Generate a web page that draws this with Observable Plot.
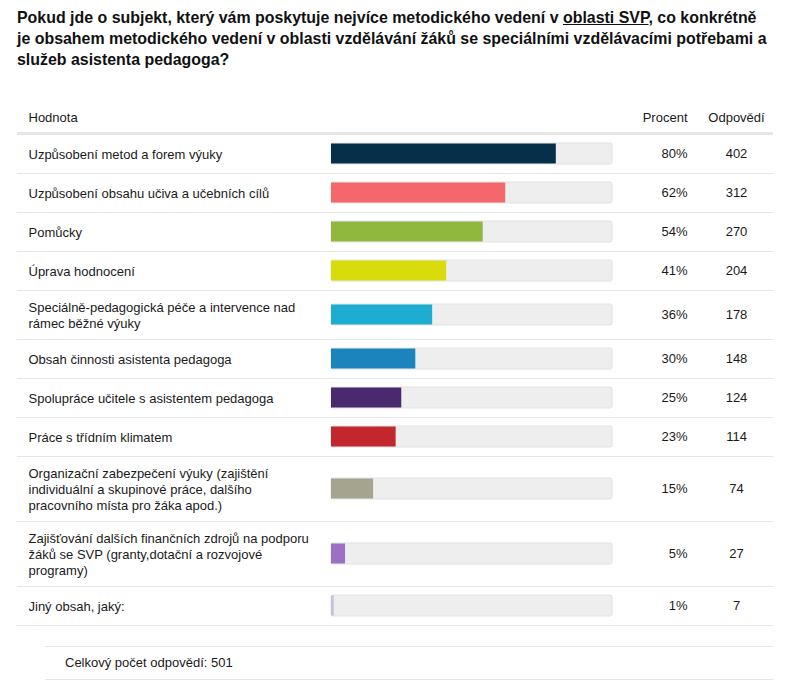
<!DOCTYPE html>
<html>
<head>
<meta charset="utf-8">
<script src="https://cdn.jsdelivr.net/npm/d3@7"></script>
<script src="https://cdn.jsdelivr.net/npm/@observablehq/plot@0.6"></script>
<style>
  html, body { margin: 0; padding: 0; background: #fff; }
  body { width: 793px; height: 688px; overflow: hidden; font-family: "Liberation Sans", Arial, sans-serif; color: #1a1a1a; }
  #title { box-sizing: border-box; height: 95px; padding: 7px 0 0 17px; font-family: "Liberation Sans", Arial, sans-serif; font-weight: bold; font-size: 15.5px; line-height: 21px; color: #111; white-space: nowrap; }
  #title > div { display: table; }
  #title u { text-decoration: underline; }
  #chart svg { display: block; }
  #total { box-sizing: border-box; margin: 16px 0 0 45px; width: 728px; height: 34px; border-top: 1px solid #e6e6e6; border-bottom: 1px solid #e6e6e6; padding-left: 20px; font-size: 13px; line-height: 32px; color: #1a1a1a; }
</style>
</head>
<body>
<div id="title"></div>
<div id="chart"></div>
<div id="total"></div>
<script>
const titleLines = [
  ["Pokud jde o subjekt, který vám poskytuje nejvíce metodického vedení v ", "oblasti SVP", ", co konkrétně"],
  ["je obsahem metodického vedení v oblasti vzdělávání žáků se speciálními vzdělávacími potřebami a"],
  ["služeb asistenta pedagoga?"]
];
const headers = ["Hodnota", "Procent", "Odpovědí"];
const categories = [
  "Uzpůsobení metod a forem výuky",
  "Uzpůsobení obsahu učiva a učebních cílů",
  "Pomůcky",
  "Úprava hodnocení",
  "Speciálně-pedagogická péče a intervence nad\nrámec běžné výuky",
  "Obsah činnosti asistenta pedagoga",
  "Spolupráce učitele s asistentem pedagoga",
  "Práce s třídním klimatem",
  "Organizační zabezpečení výuky (zajištění\nindividuální a skupinové práce, dalšího\npracovního místa pro žáka apod.)",
  "Zajišťování dalších finančních zdrojů na podporu\nžáků se SVP (granty,dotační a rozvojové\nprogramy)",
  "Jiný obsah, jaký:"
];
const percents = [80, 62, 54, 41, 36, 30, 25, 23, 15, 5, 1];
const counts = [402, 312, 270, 204, 178, 148, 124, 114, 74, 27, 7];
const colors = ["#06304a", "#f4676a", "#90b83f", "#d8dc0b", "#1eadd0", "#1c84bc", "#4a2a6f", "#c1272d", "#a5a48f", "#9c70c4", "#c5c3e4"];
const totalLabel = "Celkový počet odpovědí";
const totalCount = 501;

// title
const titleEl = document.getElementById("title");
const lineEls = titleLines.map((parts) => {
  const line = document.createElement("div");
  parts.forEach((p, j) => {
    const s = document.createElement(j === 1 ? "u" : "span");
    s.textContent = p;
    line.appendChild(s);
  });
  titleEl.appendChild(line);
  return line;
});
// fit the first title line to the reference width
const w0 = lineEls[0].getBoundingClientRect().width;
if (w0 > 0) {
  const fs = 15.5 * 740 / w0;
  titleEl.style.fontSize = Math.min(17, Math.max(13, fs)) + "px";
}

// layout of rows (pixel heights derived from number of text lines)
const headerY = 22, headerLine = 38, rowsStart = 39;
let yCursor = rowsStart;
const rows = categories.map((label, i) => {
  const lines = label.split("\n").length;
  const h = lines === 1 ? 39 : 17 + 16 * lines;
  const r = {label, pct: percents[i], count: counts[i], color: colors[i], top: yCursor, bottom: yCursor + h, center: yCursor + h / 2};
  yCursor += h;
  return r;
});
const H = 535;

const chart = Plot.plot({
  width: 793,
  height: H,
  marginLeft: 17,
  marginRight: 20,
  marginTop: 0,
  marginBottom: 0,
  x: {domain: [0, 100], range: [331, 612], axis: null},
  y: {domain: [0, H], range: [0, H], axis: null},
  style: {fontFamily: "'Liberation Sans', Arial, sans-serif", fontSize: "13px", color: "#1a1a1a", background: "#fff"},
  marks: [
    // header
    Plot.text([headers[0]], {y: () => headerY, text: d => d, frameAnchor: "left", dx: 11, textAnchor: "start", fontSize: 13, fill: "#1a1a1a"}),
    Plot.text([headers[1]], {y: () => headerY, text: d => d, frameAnchor: "right", dx: -86, textAnchor: "end", fontSize: 13, fill: "#1a1a1a"}),
    Plot.text([headers[2]], {y: () => headerY, text: d => d, frameAnchor: "right", dx: -37, textAnchor: "middle", fontSize: 13, fill: "#1a1a1a"}),
    Plot.ruleY([headerLine], {stroke: "#e6e6e6", strokeWidth: 3}),
    // row separators
    Plot.ruleY(rows, {y: "bottom", stroke: "#e6e6e6", strokeWidth: 1}),
    // tracks
    Plot.rect(rows, {x1: () => 0, x2: () => 100, y1: d => d.center - 10.5, y2: d => d.center + 10.5, fill: "#eeeeee", stroke: "#e2e2e2", strokeWidth: 1, rx: 2}),
    // bars
    Plot.rect(rows, {x1: () => 0, x2: "pct", y1: d => d.center - 10, y2: d => d.center + 10, fill: "color"}),
    // labels
    Plot.text(rows, {y: "center", text: "label", frameAnchor: "left", dx: 11, textAnchor: "start", lineHeight: 16 / 13, fontSize: 13, fill: "#1a1a1a"}),
    Plot.text(rows, {y: "center", text: d => d.pct + "%", frameAnchor: "right", dx: -86, textAnchor: "end", fontSize: 13, fill: "#1a1a1a"}),
    Plot.text(rows, {y: "center", text: d => String(d.count), frameAnchor: "right", dx: -37, textAnchor: "middle", fontSize: 13, fill: "#1a1a1a"})
  ]
});
document.getElementById("chart").appendChild(chart);
document.getElementById("total").textContent = totalLabel + ": " + totalCount;
</script>
</body>
</html>
